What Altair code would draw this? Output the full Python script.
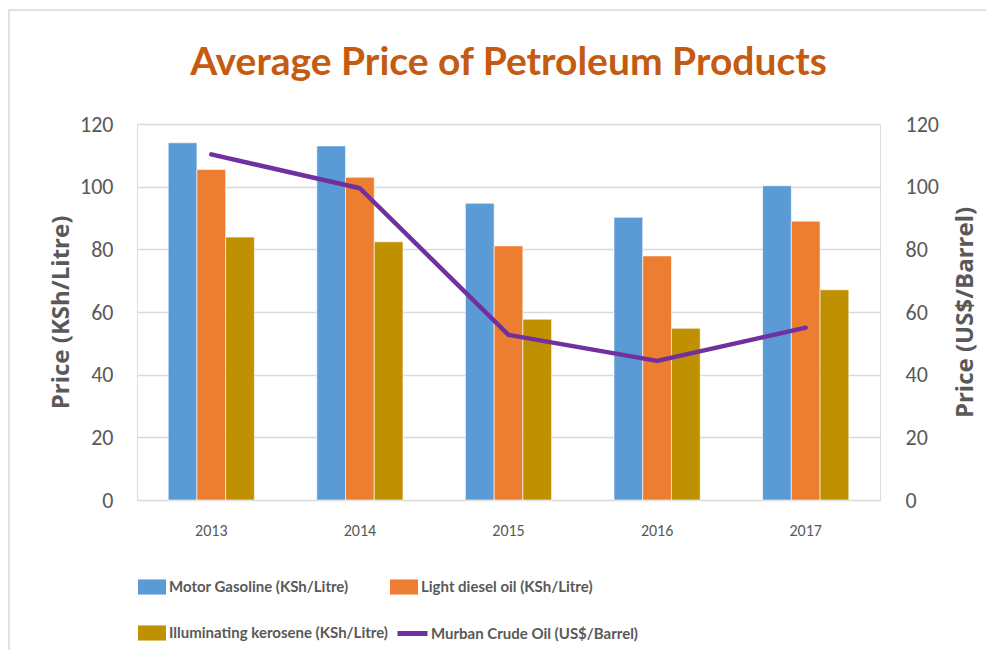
import altair as alt
import pandas as pd

years = ["2013", "2014", "2015", "2016", "2017"]
series = ["Motor Gasoline (KSh/Litre)", "Light diesel oil (KSh/Litre)", "Illuminating kerosene (KSh/Litre)"]
gasoline = [114.0, 113.0, 94.7, 90.2, 100.3]
diesel = [105.5, 103.0, 81.1, 77.9, 89.0]
kerosene = [83.9, 82.4, 57.7, 54.8, 67.1]
crude_label = "Murban Crude Oil (US$/Barrel)"
crude = [110.3, 99.5, 52.7, 44.4, 55.0]

bar_colors = ["#5B9BD5", "#ED7D31", "#BF9000"]
line_color = "#7030A0"

rows = []
for s, vals in zip(series, [gasoline, diesel, kerosene]):
    for y, v in zip(years, vals):
        rows.append({"year": y, "series": s, "value": v})
df_bars = pd.DataFrame(rows)
df_line = pd.DataFrame({"year": years, "price": crude, "label": crude_label})

# legend fills column by column: put entries in that order
legend_order = [series[0], series[2], series[1]]
legend_colors = [bar_colors[0], bar_colors[2], bar_colors[1]]

TITLE_FONT = "Comic Sans MS, Lato"
AXT_FONT = "Comic Sans MS, Open Sans"
LEG_FONT = "Comic Sans MS, Lato"
NUM = "Calibri, Carlito, Lato, sans-serif"
GRAY = "#595959"

xenc = alt.X("year:N", sort=years,
             scale=alt.Scale(paddingInner=0.42, paddingOuter=0.21),
             axis=alt.Axis(title=None, labelAngle=0, domain=False, ticks=False,
                           labelFont=NUM, labelFontSize=16, labelColor=GRAY,
                           labelPadding=22))

bars = alt.Chart(df_bars).mark_bar(stroke="white", strokeWidth=0.6).encode(
    x=xenc,
    xOffset=alt.XOffset("series:N", sort=series, scale=alt.Scale(paddingInner=0, paddingOuter=0)),
    y=alt.Y("value:Q", scale=alt.Scale(domain=[0, 120]),
            axis=alt.Axis(title="Price (KSh/Litre)", values=[0, 20, 40, 60, 80, 100, 120],
                          domain=False, ticks=False, grid=True, gridColor="#D9D9D9",
                          gridWidth=1.5,
                          labelFont=NUM, labelFontSize=22, labelColor=GRAY, labelPadding=24,
                          titleFont=AXT_FONT, titleFontSize=24, titleFontWeight="bold",
                          titleColor=GRAY, titlePadding=6)),
    color=alt.Color("series:N",
                    scale=alt.Scale(domain=legend_order, range=legend_colors),
                    legend=alt.Legend(title=None, orient="none", legendX=1, legendY=449,
                                      columns=2, columnPadding=2, rowPadding=24,
                                      symbolType="M-1,-0.54H1V0.54H-1Z", symbolSize=784,
                                      symbolStrokeWidth=0, labelOffset=3,
                                      labelFont=LEG_FONT, labelFontSize=15, labelFontWeight="bold",
                                      labelColor=GRAY, labelLimit=400)),
)

line = alt.Chart(df_line).mark_line(strokeWidth=4.5, strokeCap="round", strokeJoin="round").encode(
    x=alt.X("year:N", sort=years),
    y=alt.Y("price:Q", scale=alt.Scale(domain=[0, 120]),
            axis=alt.Axis(orient="right", title="Price (US$/Barrel)", titleAngle=270,
                          values=[0, 20, 40, 60, 80, 100, 120],
                          domain=False, ticks=False, grid=False,
                          labelFont=NUM, labelFontSize=22, labelColor=GRAY, labelPadding=25,
                          titleFont=AXT_FONT, titleFontSize=24, titleFontWeight="bold",
                          titleColor=GRAY, titlePadding=39)),
    stroke=alt.Stroke("label:N", scale=alt.Scale(domain=[crude_label], range=[line_color]),
                      legend=alt.Legend(title=None, orient="none", legendX=258, legendY=492,
                                        symbolType="stroke", symbolSize=900,
                                        symbolStrokeWidth=5, labelOffset=1,
                                        labelFont=LEG_FONT, labelFontSize=15, labelFontWeight="bold",
                                        labelColor=GRAY, labelLimit=400)),
)

border = alt.Chart(pd.DataFrame({"k": [0]})).mark_rect(
    fill=None, stroke="#D9D9D9", strokeWidth=1.5
).encode(x=alt.value(-128), x2=alt.value(900), y=alt.value(-114), y2=alt.value(560))

chart = alt.layer(border, bars, line).resolve_scale(
    y="independent", color="independent"
).properties(
    width=743, height=376,
    autosize=alt.AutoSizeParams(type="none"),
    padding={"left": 129, "top": 116, "right": 106, "bottom": 150},
    title=alt.Title("Average Price of Petroleum Products", font=TITLE_FONT, fontSize=39,
                    fontWeight="bold", color="#C55A11", anchor="middle", offset=-74),
).configure_view(stroke=None).configure(background="white")

chart.save("out.html", embed_options={"renderer": "svg", "actions": False})
